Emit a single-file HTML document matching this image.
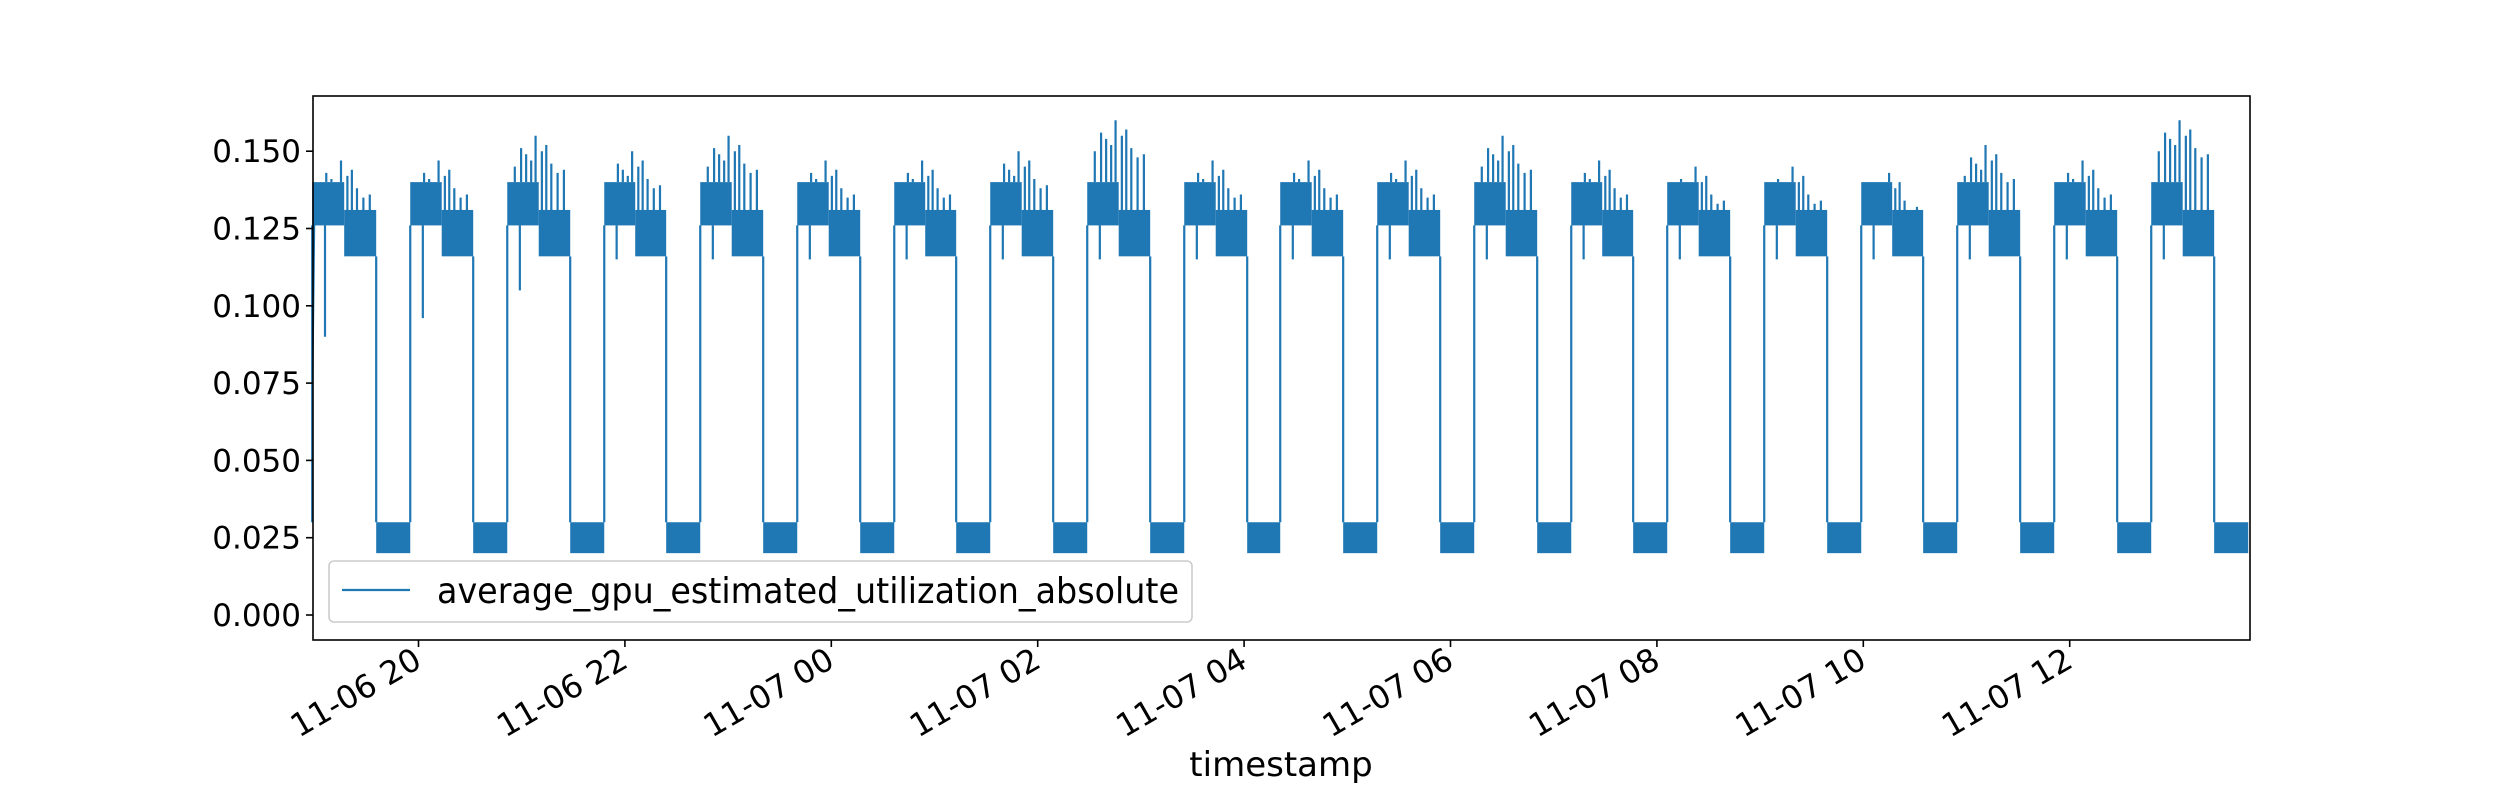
<!DOCTYPE html>
<html><head><meta charset="utf-8"><style>
html,body{margin:0;padding:0;background:#fff;width:2500px;height:800px;overflow:hidden}
svg text{font-family:"DejaVu Sans","Liberation Sans",sans-serif;fill:#000}
</style></head><body>
<svg id="chart" width="2500" height="800" viewBox="0 0 2500 800" xmlns="http://www.w3.org/2000/svg">
<rect x="0" y="0" width="2500" height="800" fill="#fff"/>
<g id="plot"></g>
<g id="axes"></g>
</svg>
<script>
// hours since 11-06 00:00
const highStarts = [18.97,19.92,20.86,21.80,22.73,23.67,24.61,25.54,26.48,27.42,28.35,29.29,30.23,31.17,32.10,33.04,33.98,34.91,35.85,36.79];
const highEnds   = [19.59,20.53,21.47,22.40,23.34,24.28,25.21,26.15,27.09,28.03,28.96,29.90,30.84,31.77,32.71,33.65,34.58,35.52,36.46,37.40];
const peakValues = [0.147,0.147,0.155,0.150,0.155,0.147,0.147,0.150,0.160,0.147,0.147,0.147,0.155,0.147,0.145,0.145,0.143,0.152,0.147,0.160];
const dipValues  = [0.090,0.096,0.105,0.115,0.115,0.115,0.115,0.115,0.115,0.115,0.115,0.115,0.115,0.115,0.115,0.115,0.115,0.115,0.115,0.115];
const bandLow = 0.020, bandHigh = 0.030;
const highBandA = [0.126,0.140], highBandB = [0.116,0.131];
const dataEnd = 37.73;
const yTicks = [0,0.025,0.05,0.075,0.1,0.125,0.15];
const yTickLabels = ["0.000","0.025","0.050","0.075","0.100","0.125","0.150"];
const xTicks = [20,22,24,26,28,30,32,34,36];
const xTickLabels = ["11-06 20","11-06 22","11-07 00","11-07 02","11-07 04","11-07 06","11-07 08","11-07 10","11-07 12"];

const L=313,R=2250,T=96,B=640;
const xs = t => 418.5 + (t-20)*103.2;
const ys = v => 615 - v/0.025*77.3;
const C="#1f77b4", NS="http://www.w3.org/2000/svg";
const plot=document.getElementById('plot'), axes=document.getElementById('axes');
function mk(tag,attrs,parent){const e=document.createElementNS(NS,tag);for(const k in attrs)e.setAttribute(k,attrs[k]);parent.appendChild(e);return e;}

let d=`M${xs(highStarts[0])},${ys(0.072)} L${xs(highStarts[0]+0.02)},${ys(0.13)}`;
for(let i=0;i<highStarts.length;i++){
  const s=highStarts[i],e=highEnds[i],m=(s+e)/2;
  const r1=mk('rect',{x:xs(s),y:ys(highBandA[1]),width:xs(m)-xs(s),height:ys(highBandA[0])-ys(highBandA[1]),fill:C},plot);
  
  
  const r2=mk('rect',{x:xs(m),y:ys(highBandB[1]),width:xs(e)-xs(m),height:ys(highBandB[0])-ys(highBandB[1]),fill:C},plot);
  
  
  d+=` M${xs(s)},${ys(highBandA[0])} L${xs(s)},${ys(bandHigh)}`;
  d+=` M${xs(e)},${ys(highBandB[0])} L${xs(e)},${ys(bandHigh)}`;
  const fr=[0.12,0.22,0.3,0.38,0.45,0.55,0.62,0.7,0.8,0.9];
  const off=[0.010,0.004,0.006,0.008,0,0.005,0.003,0.009,0.012,0.011];
  fr.forEach((f,j)=>{
    const t=s+(e-s)*f, top=f<0.5?highBandA[1]:highBandB[1];
    d+=` M${xs(t)},${ys(top)} L${xs(t)},${ys(Math.max(top,peakValues[i]-off[j]))}`;
  });
  d+=` M${xs(s+(e-s)*0.2)},${ys(highBandA[0])} L${xs(s+(e-s)*0.2)},${ys(dipValues[i])}`;
  const lowEnd = i+1<highStarts.length ? highStarts[i+1] : dataEnd;
  const lr=mk('rect',{x:xs(e),y:ys(bandHigh),width:xs(lowEnd)-xs(e),height:ys(bandLow)-ys(bandHigh),fill:C},plot);
  
  
}
const line=mk('path',{d:d,fill:'none',stroke:C,'stroke-width':2.2},plot);



const frm=mk('rect',{x:L,y:T,width:R-L,height:B-T,fill:'none',stroke:'#000','stroke-width':1.6},axes);


yTicks.forEach((v,i)=>{
  const y=ys(v);
  const tk=mk('line',{x1:L-7,x2:L,y1:y,y2:y,stroke:'#000','stroke-width':1.6},axes);
  
  
  const t=mk('text',{x:L-12,y:y+11,'text-anchor':'end','font-size':31},axes);
  t.textContent=yTickLabels[i];
  
  
});
xTicks.forEach((h,i)=>{
  const x=xs(h);
  const tk=mk('line',{x1:x,x2:x,y1:B,y2:B+7,stroke:'#000','stroke-width':1.6},axes);
  
  
  const t=mk('text',{transform:`translate(${x+5},666) rotate(-30)`,'text-anchor':'end','font-size':32},axes);
  t.textContent=xTickLabels[i];
  
  
});
const xt=mk('text',{x:1281,y:776,'text-anchor':'middle','font-size':34},axes);
xt.textContent='timestamp';



const lg=mk('g',{},axes);


mk('rect',{x:329,y:561,width:863,height:61,rx:5,fill:'#fff','fill-opacity':0.8,stroke:'#ccc','stroke-width':1.6},lg);
mk('line',{x1:342,x2:410,y1:590,y2:590,stroke:C,'stroke-width':2.2},lg);
const lt=mk('text',{x:437,y:603,'font-size':36,textLength:742,lengthAdjust:'spacingAndGlyphs'},lg);
lt.textContent='average_gpu_estimated_utilization_absolute';


</script>
</body></html>
